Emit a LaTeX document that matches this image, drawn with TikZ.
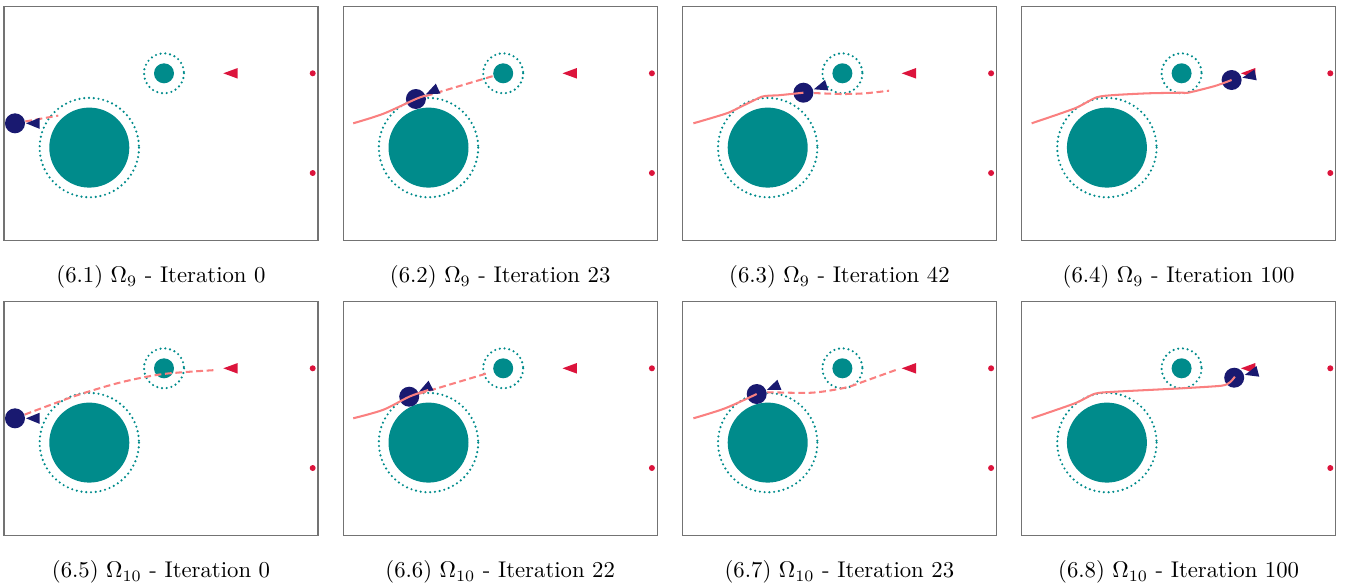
\documentclass[tikz,border=0pt]{standalone}
\usepackage{amsmath}
\usepackage{xcolor}
\usepackage{tikz}
\usetikzlibrary{arrows.meta,positioning,calc}

\definecolor{obsteal}{RGB}{0,139,139}
\definecolor{robotnavy}{RGB}{25,25,112}
\definecolor{goalred}{RGB}{220,20,60}
\definecolor{trajpink}{RGB}{250,128,128}

\begin{document}
\begin{tikzpicture}[
    x=0.44pt, y=-0.44pt,
    panelframe/.style={draw=black!55, line width=0.45pt},
    robot/.style={circle, fill=robotnavy, minimum size=8.8pt, inner sep=0pt},
    dotring/.style={draw=obsteal, line width=1.05pt, line cap=round, dash pattern=on 0pt off 2.1pt},
    traj/.style={draw=trajpink, line width=0.9pt},
    plan/.style={traj, dash pattern=on 3pt off 1.6pt},
    caption/.style={font=\normalsize, anchor=center},
    scene/.pic={
        \draw[panelframe] (0,0) rectangle (314,234.4);
        \fill[obsteal] (85.3,141.3) circle[radius=40];
        \draw[dotring] (85.3,141.3) circle[radius=49.7];
        \fill[obsteal] (160,67) circle[radius=10];
        \draw[dotring] (160,67) circle[radius=20];
        \fill[goalred] (219.3,67) -- (233.7,61.7) -- (233.7,72.3) -- cycle;
        \fill[goalred] (308.7,67) circle[radius=3];
        \fill[goalred] (308.7,166.7) circle[radius=3];
    },
    heading/.pic={
        \fill[robotnavy] (11,0) -- (24.5,5.5) -- (24.5,-5.5) -- cycle;
    }
]
\useasboundingbox (0,0) rectangle (1354,586);

%% Row 1: Omega_9
\begin{scope}[shift={(4,6.3)}]
  \pic at (0,0) {scene};
  \draw[plan] (11,117) -- (54.3,109.3);
  \node[robot] (r1) at (11,117) {};
  \pic[rotate=0] at (r1.center) {heading};
\end{scope}
\node[caption] (cap1) at (161,277) {(6.1) $\Omega_{9}$ - Iteration 0};

\begin{scope}[shift={(343.2,6.3)}]
  \pic at (0,0) {scene};
  \draw[plan] (72.7,92.7) -- (150,69.7);
  \node[robot] (r2) at (72.7,92.7) {};
  \pic[rotate=25] at (r2.center) {heading};
  \draw[traj] plot[smooth] coordinates {(10,117) (40,107.5) (72.7,92.7) (82.7,89.2)};
\end{scope}
\node[caption] (cap2) at (500.2,277) {(6.2) $\Omega_{9}$ - Iteration 23};

\begin{scope}[shift={(682.4,6.3)}]
  \pic at (0,0) {scene};
  \draw[plan] plot[smooth] coordinates {(121,86.4) (132.7,86.8) (159.3,87.7) (182.7,87) (206.7,84.4)};
  \node[robot] (r3) at (121,86.4) {};
  \pic[rotate=18] at (r3.center) {heading};
  \draw[traj] plot[smooth, tension=0.3] coordinates {(11,117) (46,106.4) (79.3,90.4) (96,89) (121,86.4)};
\end{scope}
\node[caption] (cap3) at (839.4,277) {(6.3) $\Omega_{9}$ - Iteration 42};

\begin{scope}[shift={(1021.6,6.3)}]
  \pic at (0,0) {scene};
  \node[robot] (r4) at (210,73.7) {};
  \pic[rotate=12] at (r4.center) {heading};
  \draw[traj] plot[smooth, tension=0.4] coordinates {(10,117) (53.3,102) (75,91) (93.3,88.7) (126.7,87) (160,86.4) (166.7,86.4) (193.3,79.7) (210,73.7)};
\end{scope}
\node[caption] (cap4) at (1178.6,277) {(6.4) $\Omega_{9}$ - Iteration 100};

%% Row 2: Omega_10
\begin{scope}[shift={(4,301.3)}]
  \pic at (0,0) {scene};
  \draw[plan] plot[smooth] coordinates {(11,117) (40,106) (76,93) (117,81) (159.3,72.7) (212.7,68.7)};
  \node[robot] (r5) at (11,117) {};
  \pic[rotate=0] at (r5.center) {heading};
\end{scope}
\node[caption] (cap5) at (161,572) {(6.5) $\Omega_{10}$ - Iteration 0};

\begin{scope}[shift={(343.2,301.3)}]
  \pic at (0,0) {scene};
  \draw[plan] (66,95.4) -- (142.7,72.4);
  \node[robot] (r6) at (66,95.4) {};
  \pic[rotate=27] at (r6.center) {heading};
  \draw[traj] plot[smooth] coordinates {(10,117) (40,108.5) (66,95.4) (85,88.7)};
\end{scope}
\node[caption] (cap6) at (500.2,572) {(6.6) $\Omega_{10}$ - Iteration 22};

\begin{scope}[shift={(682.4,301.3)}]
  \pic at (0,0) {scene};
  \draw[plan] plot[smooth] coordinates {(74.3,92.7) (83.3,91) (129.3,91.4) (162.7,86.4) (182.7,79.7) (213.3,68.7)};
  \node[robot] (r7) at (74.3,92.7) {};
  \pic[rotate=22] at (r7.center) {heading};
  \draw[traj] plot[smooth] coordinates {(11,117) (42.7,107) (74.3,92.7)};
\end{scope}
\node[caption] (cap7) at (839.4,572) {(6.7) $\Omega_{10}$ - Iteration 23};

\begin{scope}[shift={(1021.6,301.3)}]
  \pic at (0,0) {scene};
  \node[robot] (r8) at (212.6,76.4) {};
  \pic[rotate=15] at (r8.center) {heading};
  \draw[traj] plot[smooth, tension=0.4] coordinates {(10,117) (53.3,102) (73.3,92.4) (93.3,90.4) (160,87) (200,84.4) (208.3,81) (213.3,75.4)};
\end{scope}
\node[caption] (cap8) at (1178.6,572) {(6.8) $\Omega_{10}$ - Iteration 100};

\end{tikzpicture}
\end{document}
